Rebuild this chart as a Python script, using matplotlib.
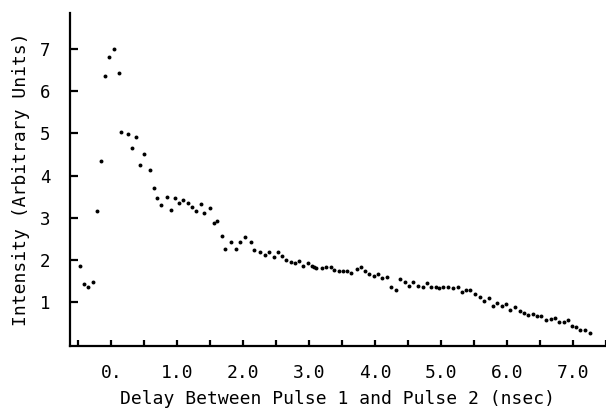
"""Pump-probe style scan: intensity versus delay between two pulses."""

import matplotlib

matplotlib.use("Agg")
import matplotlib.pyplot as plt
import numpy as np

# values
delay_ns = [
    -0.48, -0.42, -0.35, -0.28, -0.22, -0.16, -0.10, -0.03, 0.04, 0.11,
    0.15, 0.25, 0.31, 0.37, 0.43, 0.50, 0.58, 0.64, 0.69, 0.76,
    0.84, 0.90, 0.97, 1.02, 1.08, 1.16, 1.23, 1.29, 1.36, 1.41,
    1.50, 1.56, 1.61, 1.68, 1.73, 1.82, 1.89, 1.95, 2.03, 2.12,
    2.17, 2.26, 2.33, 2.39, 2.47, 2.52, 2.59, 2.65, 2.72, 2.79,
    2.85, 2.91, 2.98, 3.05, 3.08, 3.11, 3.19, 3.26, 3.33, 3.38,
    3.45, 3.52, 3.58, 3.64, 3.72, 3.78, 3.85, 3.91, 3.98, 4.04,
    4.11, 4.18, 4.24, 4.31, 4.37, 4.45, 4.52, 4.58, 4.65, 4.72,
    4.78, 4.84, 4.92, 4.97, 5.03, 5.11, 5.18, 5.25, 5.31, 5.38,
    5.44, 5.52, 5.59, 5.65, 5.72, 5.79, 5.85, 5.92, 5.99, 6.05,
    6.12, 6.19, 6.26, 6.32, 6.39, 6.46, 6.52, 6.59, 6.66, 6.72,
    6.79, 6.86, 6.93, 6.98, 7.05, 7.11, 7.18, 7.25,
]
intensity = [
    1.86, 1.42, 1.37, 1.48, 3.16, 4.34, 6.37, 6.81, 7.00, 6.44,
    5.03, 4.98, 4.66, 4.92, 4.26, 4.52, 4.13, 3.70, 3.46, 3.31,
    3.49, 3.18, 3.48, 3.35, 3.42, 3.36, 3.26, 3.16, 3.32, 3.11,
    3.23, 2.87, 2.93, 2.57, 2.25, 2.43, 2.25, 2.42, 2.55, 2.42,
    2.24, 2.20, 2.13, 2.18, 2.08, 2.18, 2.10, 2.00, 1.96, 1.92,
    1.97, 1.86, 1.93, 1.86, 1.84, 1.81, 1.80, 1.83, 1.84, 1.77,
    1.74, 1.74, 1.74, 1.68, 1.79, 1.83, 1.75, 1.67, 1.62, 1.66,
    1.57, 1.59, 1.37, 1.30, 1.56, 1.48, 1.39, 1.48, 1.39, 1.37,
    1.45, 1.37, 1.35, 1.33, 1.37, 1.37, 1.33, 1.37, 1.25, 1.29,
    1.29, 1.20, 1.13, 1.02, 1.11, 0.91, 0.97, 0.92, 0.95, 0.81,
    0.89, 0.79, 0.75, 0.70, 0.72, 0.67, 0.68, 0.57, 0.59, 0.62,
    0.54, 0.52, 0.57, 0.43, 0.40, 0.34, 0.34, 0.27,
]

x_ticks = np.arange(-0.5, 7.51, 0.5)
x_labels = {0: "0.", 1: "1.0", 2: "2.0", 3: "3.0", 4: "4.0", 5: "5.0", 6: "6.0", 7: "7.0"}
y_ticks = [1, 2, 3, 4, 5, 6, 7]

plt.rcParams["font.family"] = ["DejaVu Sans Mono"]

fig = plt.figure(figsize=(6.06, 4.11), dpi=100)
ax = fig.add_axes([0.1155, 0.158, 0.8845, 0.81])

ax.scatter(delay_ns, intensity, s=8, color="black", linewidths=0)

ax.set_xlim(-0.626, 7.5)
ax.set_ylim(-0.04, 7.85)

ax.spines["top"].set_visible(False)
ax.spines["right"].set_visible(False)
for side in ("left", "bottom"):
    ax.spines[side].set_linewidth(1.6)

ax.set_xticks(x_ticks)
ax.set_xticklabels([x_labels.get(int(t), "") if t == int(t) else "" for t in x_ticks])
ax.set_yticks(y_ticks)
ax.set_yticklabels([str(v) for v in y_ticks])
ax.tick_params(axis="x", direction="in", length=4, width=1.6, pad=13, labelsize=13)
ax.tick_params(axis="y", direction="in", length=6, width=1.6, pad=14, labelsize=12.5)

ax.set_xlabel("Delay Between Pulse 1 and Pulse 2 (nsec)", fontsize=13, labelpad=6)
ax.set_ylabel("Intensity (Arbitrary Units)", fontsize=13, labelpad=7)

fig.savefig("out.png", dpi=100)
